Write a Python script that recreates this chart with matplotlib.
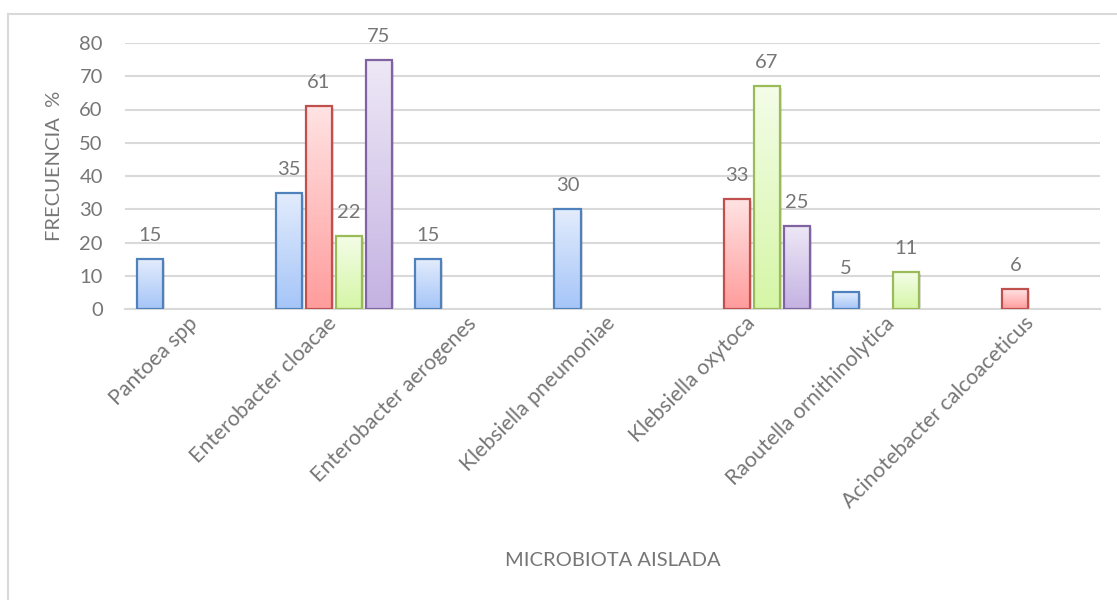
import matplotlib
matplotlib.use("Agg")
import matplotlib.pyplot as plt
import matplotlib.transforms as mtransforms
from matplotlib.colors import LinearSegmentedColormap
from matplotlib.lines import Line2D
import numpy as np

categories = [
    "Pantoea spp",
    "Enterobacter cloacae",
    "Enterobacter aerogenes",
    "Klebsiella pneumoniae",
    "Klebsiella oxytoca",
    "Raoutella ornithinolytica",
    "Acinotebacter calcoaceticus",
]
# four sample groups, None where the organism was not isolated
serie_1 = [15, 35, 15, 30, None, 5, None]
serie_2 = [None, 61, None, None, 33, None, 6]
serie_3 = [None, 22, None, None, 67, 11, None]
serie_4 = [None, 75, None, None, 25, None, None]
yticks = [0, 10, 20, 30, 40, 50, 60, 70, 80]

series = [serie_1, serie_2, serie_3, serie_4]
edges = ["#4F81BD", "#C0504D", "#9BBB59", "#8064A2"]
grads = [("#E3ECFC", "#A5C5F8"), ("#FFE3E3", "#FF9C9C"),
         ("#F4FDE8", "#D5F6A6"), ("#EEE8F6", "#C4B2E2")]

FONT = "Lato"
GRAY = "#767676"
GRID = "#D9D9D9"
FS = 14.5


def main() -> None:
    fig = plt.figure(figsize=(11.17, 6.0), dpi=100)
    ax = fig.add_axes([125 / 1117, 1 - 309 / 600, 975 / 1117, 266 / 600])

    x = np.arange(len(categories))
    step = 0.2154
    width = 0.187
    shadow = ax.transData + mtransforms.ScaledTranslation(2 / 100, -2 / 100, fig.dpi_scale_trans)

    for i, vals in enumerate(series):
        pos = x + (i - 1.5) * step
        mask = [v is not None for v in vals]
        xs = pos[mask]
        hs = np.array([v for v in vals if v is not None], dtype=float)
        # soft drop shadow
        ax.bar(xs, hs, width=width, color="#000000", alpha=0.12, zorder=1.5,
               transform=shadow, linewidth=0)
        bars = ax.bar(xs, hs, width=width, facecolor="none", edgecolor=edges[i],
                      linewidth=1.6, zorder=3)
        cmap = LinearSegmentedColormap.from_list("g%d" % i, list(grads[i]))
        grad = np.linspace(0, 1, 256).reshape(-1, 1)
        for b, h in zip(bars, hs):
            x0, w = b.get_x(), b.get_width()
            im = ax.imshow(grad, extent=[x0, x0 + w, 0, h], origin="upper", cmap=cmap,
                           aspect="auto", zorder=2, interpolation="bilinear")
            im.set_clip_path(b)
            ax.annotate("%d" % h, (x0 + w / 2, h), xytext=(0, 13), textcoords="offset points",
                        ha="center", va="baseline", fontsize=FS, color=GRAY, family=FONT)

    ax.set_xlim(-0.5, len(categories) - 0.5)
    ax.set_ylim(0, 80)
    ax.set_yticks(yticks)
    ax.set_yticklabels([str(t) for t in yticks], family=FONT, fontsize=FS, color=GRAY)
    ax.set_xticks(x)
    ax.set_xticklabels(categories, rotation=45, ha="right", va="center",
                       rotation_mode="anchor", family=FONT, fontsize=15.3, color=GRAY)
    ax.tick_params(axis="both", length=0)
    ax.tick_params(axis="y", pad=16)
    ax.tick_params(axis="x", pad=8)
    ax.grid(axis="y", color=GRID, linewidth=1.5, zorder=0)
    ax.set_axisbelow(True)
    for s in ["top", "right", "left"]:
        ax.spines[s].set_visible(False)
    ax.spines["bottom"].set_color(GRID)
    ax.spines["bottom"].set_linewidth(1.5)

    fig.text(55 / 1117, 1 - 166 / 600, "FRECUENCIA  %", rotation=90, ha="center", va="center",
             family=FONT, fontsize=FS, color=GRAY)
    fig.text(613 / 1117, 1 - 560 / 600, "MICROBIOTA AISLADA", ha="center", va="center",
             family=FONT, fontsize=FS, color=GRAY)

    # chart frame
    fig.add_artist(Line2D([8 / 1117, 8 / 1117], [0, 1 - 14 / 600], transform=fig.transFigure,
                          color=GRID, linewidth=1.5))
    fig.add_artist(Line2D([8 / 1117, 1], [1 - 14 / 600, 1 - 14 / 600], transform=fig.transFigure,
                          color=GRID, linewidth=1.5))

    fig.savefig("out.png", dpi=100)


if __name__ == "__main__":
    main()
